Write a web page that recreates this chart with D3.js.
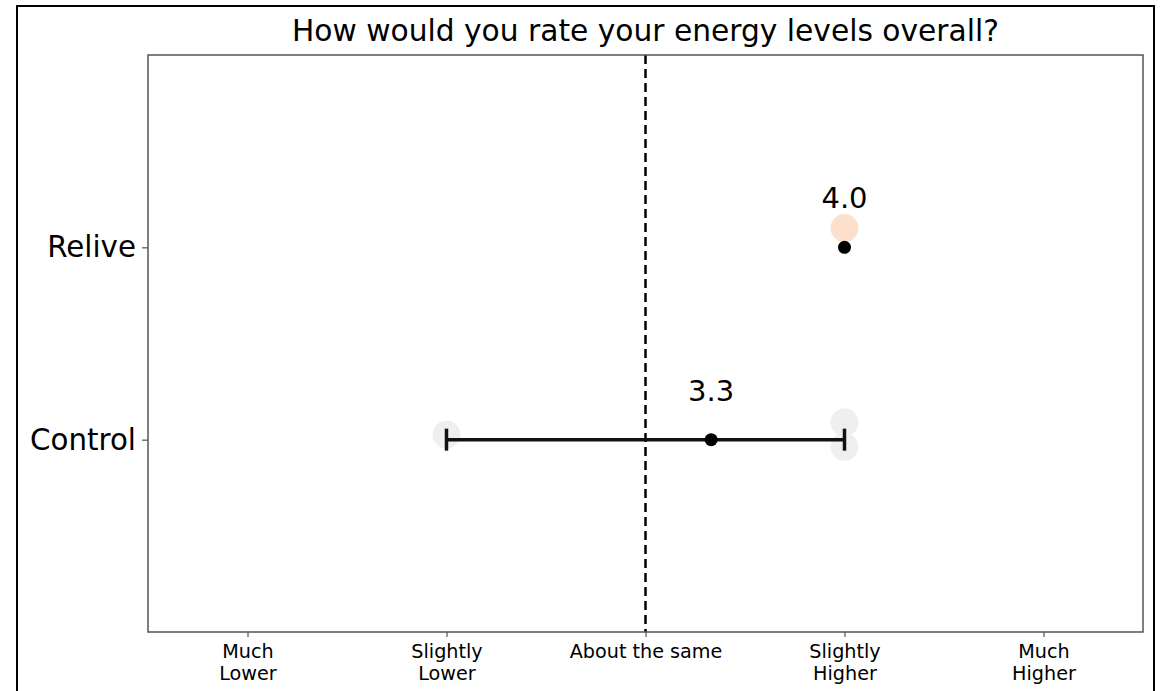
<!DOCTYPE html>
<html><head><meta charset="utf-8">
<script src="https://cdn.jsdelivr.net/npm/d3@7"></script>
<style>body{margin:0;background:#fff}svg{display:block;font-family:"DejaVu Sans",sans-serif}</style>
</head><body>
<script>
const title = "How would you rate your energy levels overall?";
const groups = ["Control", "Relive"];
const groupIndex = [0, 1];
const means = [3.33, 4.0];
const meanLabels = ["3.3", "4.0"];
const errLow = [2, null];
const errHigh = [4, null];
const tickValues = [1, 2, 3, 4, 5];
const tickLabels = [["Much","Lower"],["Slightly","Lower"],["About the same"],["Slightly","Higher"],["Much","Higher"]];
const refValue = 3;
// individual responses (jittered vertically)
const ptGroup = [0, 0, 0, 1];
const ptValue = [2, 4, 4, 4];
const ptJitter = [0.026, 0.09, -0.037, 0.1];
const groupColors = ["#efefef", "#fde0cb"];

const FONT = "DejaVu Sans";
const W = 1165, H = 691;
const svg = d3.select("body").append("svg").attr("width", W).attr("height", H);
const L = 148, R = 1143, T = 55, B = 632;
const x = d3.scaleLinear().domain([0.5, 5.5]).range([L, R]);
const y = d3.scaleLinear().domain([-1, 2]).range([B, T]);

// outer frame
svg.append("rect").attr("x", 17).attr("y", 6).attr("width", 1137).attr("height", 700)
  .attr("fill", "none").attr("stroke", "#000").attr("stroke-width", 2);

// title
svg.append("text").attr("x", (L + R) / 2).attr("y", 41).attr("text-anchor", "middle")
  .attr("font-family", FONT).attr("font-size", 29.7).attr("fill", "#000").text(title);

// reference line
svg.append("line").attr("x1", x(refValue)).attr("x2", x(refValue)).attr("y1", T).attr("y2", B)
  .attr("stroke", "#000").attr("stroke-width", 2.5).attr("stroke-dasharray", "9,5");

// points
svg.selectAll(".pt").data(ptValue).join("circle")
  .attr("cx", d => x(d)).attr("cy", (d, i) => y(groupIndex[ptGroup[i]] + ptJitter[i]))
  .attr("r", 14).attr("fill", (d, i) => groupColors[ptGroup[i]]);

// error bars
groups.forEach((g, i) => {
  if (errLow[i] == null) return;
  const yy = y(groupIndex[i]);
  svg.append("line").attr("x1", x(errLow[i])).attr("x2", x(errHigh[i])).attr("y1", yy).attr("y2", yy)
    .attr("stroke", "#111").attr("stroke-width", 3.5);
  [errLow[i], errHigh[i]].forEach(v => {
    svg.append("line").attr("x1", x(v)).attr("x2", x(v)).attr("y1", yy - 11).attr("y2", yy + 11)
      .attr("stroke", "#111").attr("stroke-width", 3.5);
  });
});

// means
svg.selectAll(".mean").data(means).join("circle")
  .attr("cx", d => x(d)).attr("cy", (d, i) => y(groupIndex[i])).attr("r", 6.5).attr("fill", "#000");
svg.selectAll(".mlab").data(means).join("text")
  .attr("x", d => x(d)).attr("y", (d, i) => y(groupIndex[i]) - 39)
  .attr("text-anchor", "middle").attr("font-family", FONT).attr("font-size", 29).attr("fill", "#000")
  .text((d, i) => meanLabels[i]);

// frame of plot
svg.append("rect").attr("x", L).attr("y", T).attr("width", R - L).attr("height", B - T)
  .attr("fill", "none").attr("stroke", "#555").attr("stroke-width", 1.5);

// x axis
const xa = svg.append("g").attr("transform", `translate(0,${B})`)
  .call(d3.axisBottom(x).tickValues(tickValues).tickSize(5).tickFormat(""));
xa.select(".domain").remove();
xa.selectAll(".tick line").attr("stroke", "#555").attr("stroke-width", 1.2);
xa.selectAll(".tick").each(function(d, i) {
  const t = d3.select(this).append("text").attr("fill", "#000").attr("font-size", 19.2)
    .attr("font-family", FONT).attr("text-anchor", "middle");
  tickLabels[i].forEach((s, k) => t.append("tspan").attr("x", 0).attr("y", 26 + k * 22.4).text(s));
});

// y axis
const ya = svg.append("g").attr("transform", `translate(${L},0)`)
  .call(d3.axisLeft(y).tickValues(groupIndex).tickSize(6).tickPadding(6).tickFormat((d, i) => groups[i]));
ya.select(".domain").remove();
ya.selectAll(".tick line").attr("stroke", "#555").attr("stroke-width", 1.2);
ya.selectAll(".tick text").attr("font-size", 29.3).attr("fill", "#000").attr("font-family", FONT);
</script>
</body></html>
